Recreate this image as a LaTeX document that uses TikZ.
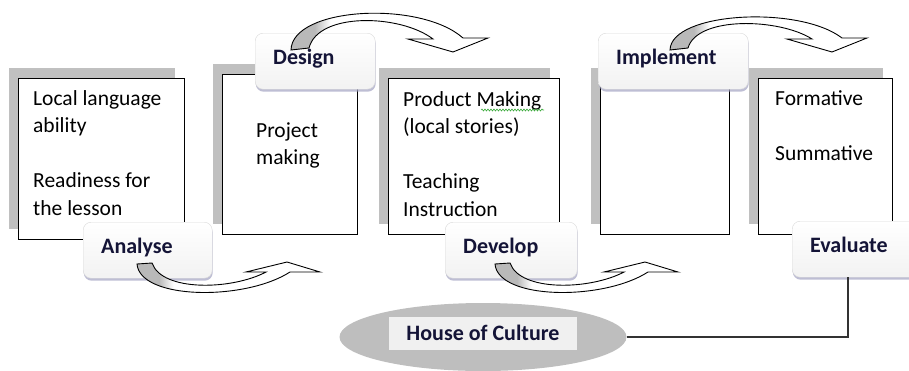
\documentclass[tikz,border=0pt]{standalone}
\usepackage{fontspec}
\setmainfont{Carlito}
\usetikzlibrary{shapes.geometric, shadows, decorations.pathmorphing}
\definecolor{boxshadow}{RGB}{192,192,192}
\definecolor{labelink}{RGB}{20,20,55}
\definecolor{culturegray}{RGB}{190,190,190}
\definecolor{culturepanel}{RGB}{240,240,240}
\definecolor{spellgreen}{RGB}{60,170,60}
\pgfdeclarehorizontalshading{arrowfill}{100bp}{color(0bp)=(gray!55); color(31bp)=(gray!55); color(35bp)=(white); color(100bp)=(white)}

\begin{document}
\begin{tikzpicture}[x=1pt, y=-1pt,
  every node/.style={inner sep=0pt},
  stage/.style={draw=black, line width=1pt, fill=white, anchor=north west,
    drop shadow={shadow xshift=-10pt, shadow yshift=11pt, fill=boxshadow, opacity=1}},
  body/.style={anchor=base west, text width=160pt, align=flush left, font=\fontsize{21.5}{27.5}\selectfont},
  phase/.style={anchor=north west, rounded corners=8pt, draw=gray!30, top color=white, bottom color=gray!10,
    minimum height=56pt, inner xsep=18pt, text height=16pt, text depth=10pt, align=flush left,
    font=\fontsize{22}{26}\selectfont\bfseries, text=labelink,
    drop shadow={shadow xshift=0.5pt, shadow yshift=-2.5pt, fill=blue!20!gray!60, opacity=0.7}},
  turn/.style={draw=black, line width=0.9pt, shade, shading=arrowfill}
]
\useasboundingbox (0,0) rectangle (909,370);
\clip (0,0) rectangle (909,370);

% Stage boxes
\node[stage, minimum width=166pt, minimum height=161pt] (localbox) at (18,78) {};
\node[stage, minimum width=135pt, minimum height=160pt] (projectbox) at (222,74) {};
\node[stage, minimum width=171pt, minimum height=156pt] (productbox) at (388,78) {};
\node[stage, minimum width=129pt, minimum height=156pt] (implbox) at (600,78) {};
\node[stage, minimum width=134pt, minimum height=156pt] (evalbox) at (758,78) {};

\node[body] (localtxt) at (33,105) {Local language\\ability\\[27.5pt]Readiness for\\the lesson};
\node[body] (projecttxt) at (256,137) {Project\\making};
\node[body] (producttxt) at (403,106) {Product Making\\(local stories)\\[27.5pt]Teaching\\Instruction};
\node[body] (evaltxt) at (775,105) {Formative\\[27.5pt]Summative};
% wavy underline
\draw[spellgreen, line width=0.6pt, decorate, decoration={snake, amplitude=1pt, segment length=3pt}] (481,110) -- (544,110);

% House of Culture
\node[ellipse, fill=culturegray, minimum width=287pt, minimum height=68pt] (culture) at (483,337) {};
\node[fill=culturepanel, minimum width=188pt, minimum height=33pt, text height=15pt, text depth=2pt,
  font=\fontsize{22}{26}\selectfont\bfseries, text=labelink] (culturetxt) at (483,333.5) {House of Culture};

% Phases
\node[phase, text width=93pt] (analyse) at (83,222) {Analyse};
\node[phase, text width=84pt] (design) at (255,33) {Design};
\node[phase, text width=114pt] (implement) at (598,33) {Implement};
\node[phase, text width=96pt] (develop) at (445,222) {Develop};
\node[phase, text width=100pt] (evaluate) at (792,221) {Evaluate};

\draw[line width=1.1pt, black!80] (culture.east) -| ([xshift=56pt]evaluate.south west);

% Curved arrows
\path[turn] (137,264) .. controls (140,300) and (245,301) .. (290,272) -- (320,272) -- (287,262)
  -- (246,272) -- (266,272) .. controls (232,290) and (162,292) .. (152,263) -- cycle;
\begin{scope}[shift={(358,0)}]
\path[turn] (137,264) .. controls (140,300) and (245,301) .. (290,272) -- (320,272) -- (287,262)
  -- (246,272) -- (266,272) .. controls (232,290) and (162,292) .. (152,263) -- cycle;
\end{scope}
\path[turn] (291,50) .. controls (292,7) and (420,0) .. (463,38) -- (488,38) -- (453,52)
  -- (408,39) -- (433,39) .. controls (400,14) and (318,12) .. (309,48) -- cycle;
\begin{scope}[shift={(379,0)}]
\path[turn] (291,50) .. controls (292,12) and (420,5) .. (463,38) -- (488,38) -- (453,52)
  -- (408,39) -- (433,39) .. controls (400,18) and (318,16) .. (309,48) -- cycle;
\end{scope}
\end{tikzpicture}
\end{document}
